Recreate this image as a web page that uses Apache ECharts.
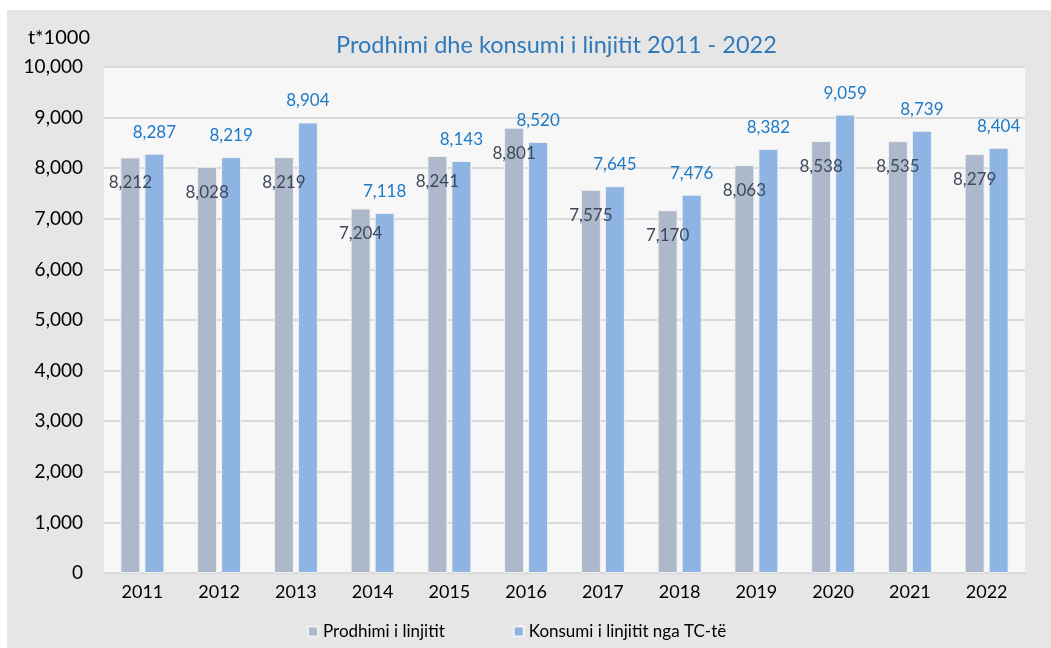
<!DOCTYPE html>
<html lang="sq">
<head>
  <meta charset="utf-8">
</head>
<body style="margin: 0; background: #fff">
  <div id="container" style="position: absolute; left: 7px; top: 10px; width: 1044px; height: 638px"></div>
  <script src="https://cdn.jsdelivr.net/npm/echarts@6/dist/echarts.min.js"></script>
  <script>
    // vitet dhe vlerat (t*1000)
    const years = ['2011', '2012', '2013', '2014', '2015', '2016', '2017', '2018', '2019', '2020', '2021', '2022'];
    const prodhimi = [8212, 8028, 8219, 7204, 8241, 8801, 7575, 7170, 8063, 8538, 8535, 8279];
    const konsumi = [8287, 8219, 8904, 7118, 8143, 8520, 7645, 7476, 8382, 9059, 8739, 8404];
    const seriesNames = ['Prodhimi i linjitit', 'Konsumi i linjitit nga TC-të'];

    const font = 'Lato, "Open Sans", sans-serif';
    const fmt = function (v) {
      return Number(v).toLocaleString('en-US');
    };

    const chart = echarts.init(document.getElementById('container'), null, { renderer: 'canvas' });

    const option = {
      backgroundColor: '#e6e6e6',
      animation: false,
      textStyle: { fontFamily: font },
      title: {
        text: 'Prodhimi dhe konsumi i linjitit 2011 - 2022',
        left: 324,
        top: 18,
        textStyle: { fontFamily: font, fontSize: 23.5, fontWeight: 'normal', color: '#2f78ba' }
      },
      legend: {
        bottom: 3,
        left: 295,
        itemWidth: 10,
        itemHeight: 10,
        itemGap: 68,
        icon: 'rect',
        textStyle: { fontFamily: font, fontSize: 17, color: '#000' },
        data: seriesNames
      },
      grid: {
        left: 97,
        right: 26,
        top: 57,
        bottom: 75,
        show: true,
        backgroundColor: '#f7f7f7',
        borderWidth: 0
      },
      xAxis: {
        type: 'category',
        data: years,
        axisLine: { lineStyle: { color: '#d9d9d9', width: 2 } },
        axisTick: { show: false },
        axisLabel: { fontFamily: font, fontSize: 18, color: '#000', margin: 10 }
      },
      yAxis: {
        type: 'value',
        min: 0,
        max: 10000,
        interval: 1000,
        name: 't*1000',
        nameLocation: 'end',
        nameGap: 29,
        nameTextStyle: { fontFamily: font, fontSize: 20, color: '#000', align: 'right', verticalAlign: 'middle', padding: [0, 14, 0, 0] },
        axisLine: { show: false },
        axisTick: { show: false },
        splitLine: { lineStyle: { color: '#d9d9d9', width: 2 } },
        axisLabel: { fontFamily: font, fontSize: 19, color: '#000', margin: 21, formatter: fmt }
      },
      series: [
        {
          name: seriesNames[0],
          type: 'bar',
          data: prodhimi,
          barWidth: 20,
          barGap: '20%',
          itemStyle: { color: '#adb9ca', borderColor: '#f2f2f2', borderWidth: 1 },
          label: {
            show: true,
            position: 'insideTop',
            distance: 17,
            fontFamily: font,
            fontSize: 17,
            color: '#3e495b',
            formatter: function (p) { return fmt(p.value); }
          }
        },
        {
          name: seriesNames[1],
          type: 'bar',
          data: konsumi,
          barWidth: 20,
          itemStyle: { color: '#8db4e2', borderColor: '#f2f2f2', borderWidth: 1 },
          label: {
            show: true,
            position: 'top',
            distance: 13,
            fontFamily: font,
            fontSize: 17,
            color: '#1f7ac6',
            formatter: function (p) { return fmt(p.value); }
          }
        }
      ]
    };

    chart.setOption(option);
    window.addEventListener('resize', chart.resize);
  </script>
</body>
</html>
